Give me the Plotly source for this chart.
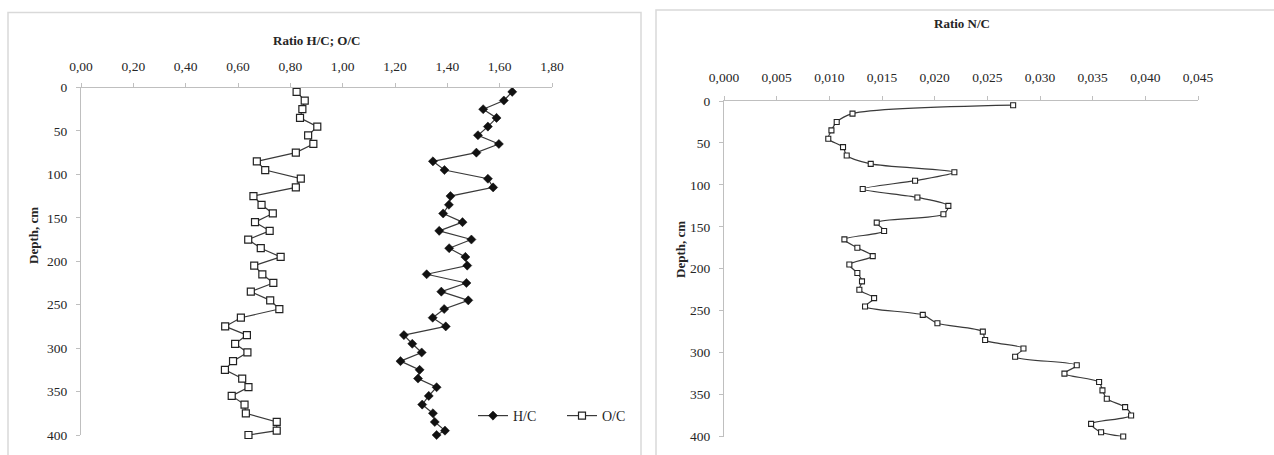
import plotly.graph_objects as go

W, H = 1274, 455

depth = [5, 15, 25, 35, 45, 55, 65, 75, 85, 95, 105, 115, 125, 135, 145, 155, 165, 175, 185, 195,
         205, 215, 225, 235, 245, 255, 265, 275, 285, 295, 305, 315, 325, 335, 345, 355, 365, 375, 385, 395, 400]

hc = [1.648, 1.616, 1.537, 1.588, 1.555, 1.517, 1.597, 1.511, 1.345, 1.389, 1.555, 1.575, 1.412, 1.406,
      1.384, 1.458, 1.369, 1.492, 1.407, 1.469, 1.476, 1.321, 1.473, 1.377, 1.480, 1.388, 1.344, 1.394,
      1.234, 1.266, 1.302, 1.221, 1.294, 1.288, 1.359, 1.329, 1.304, 1.345, 1.352, 1.391, 1.359]

oc = [0.824, 0.855, 0.846, 0.837, 0.903, 0.868, 0.888, 0.821, 0.672, 0.704, 0.840, 0.821, 0.659, 0.690,
      0.733, 0.665, 0.721, 0.639, 0.687, 0.763, 0.662, 0.693, 0.735, 0.649, 0.723, 0.758, 0.611, 0.551,
      0.634, 0.589, 0.636, 0.581, 0.550, 0.616, 0.640, 0.576, 0.625, 0.630, 0.748, 0.748, 0.640]

nc = [0.02745, 0.0122, 0.0107, 0.0102, 0.0099, 0.0113, 0.01165, 0.01393, 0.02187, 0.01814, 0.01317,
      0.01836, 0.0213, 0.02083, 0.0145, 0.0152, 0.01143, 0.01266, 0.01412, 0.0119, 0.01266, 0.0131,
      0.01285, 0.01425, 0.01339, 0.01887, 0.02026, 0.02457, 0.02479, 0.02843, 0.02764, 0.03349,
      0.03232, 0.03561, 0.03593, 0.03634, 0.03808, 0.03865, 0.03485, 0.0358, 0.0379]

left_ticks = [0, 0.2, 0.4, 0.6, 0.8, 1.0, 1.2, 1.4, 1.6, 1.8]
right_ticks = [0, 0.005, 0.01, 0.015, 0.02, 0.025, 0.03, 0.035, 0.04, 0.045]
depth_ticks = [0, 50, 100, 150, 200, 250, 300, 350, 400]

FONT = "Liberation Serif"
TXT = "#262626"
AX = "#bfbfbf"
LINE = "#3a3a3a"


def px(x):
    return x / W


def py(y):
    return 1 - y / H


fig = go.Figure()

fig.add_trace(go.Scatter(
    x=hc, y=depth, name="H/C", mode="lines+markers", xaxis="x", yaxis="y", cliponaxis=False,
    line=dict(color=LINE, width=1.2),
    marker=dict(symbol="diamond", size=7, color="#111111", line=dict(color="#111111", width=0.5)),
))
fig.add_trace(go.Scatter(
    x=oc, y=depth, name="O/C", mode="lines+markers", xaxis="x", yaxis="y", cliponaxis=False,
    line=dict(color=LINE, width=1.2),
    marker=dict(symbol="square", size=7, color="white", line=dict(color="#222222", width=1.2)),
))
fig.add_trace(go.Scatter(
    x=nc, y=depth, name="N/C", mode="lines+markers", xaxis="x2", yaxis="y2", showlegend=False,
    cliponaxis=False,
    line=dict(color=LINE, width=1.2, shape="spline", smoothing=0.8),
    marker=dict(symbol="square", size=5, color="white", line=dict(color="#222222", width=1.1)),
))

axis_common = dict(showgrid=False, zeroline=False, showline=True, linecolor=AX, linewidth=1,
                   ticks="outside", ticklen=4, tickcolor=AX, tickwidth=1, automargin=False,
                   tickfont=dict(family=FONT, size=13.5, color=TXT), fixedrange=True)

fig.update_layout(
    width=W, height=H, autosize=False,
    margin=dict(l=0, r=0, t=0, b=0, pad=0, autoexpand=False),
    paper_bgcolor="white", plot_bgcolor="white",
    separators=",.",
    font=dict(family=FONT, color=TXT),
    xaxis=dict(domain=[px(81), px(552)], range=[0, 1.8], side="top", anchor="y",
               tickvals=left_ticks, tickformat=".2f", ticklabelstandoff=6, **axis_common),
    yaxis=dict(domain=[py(435), py(87.5)], range=[400, 0], anchor="x",
               tickvals=depth_ticks, ticklabelstandoff=6, **axis_common),
    xaxis2=dict(domain=[px(724), px(1198)], range=[0, 0.045], side="top", anchor="y2",
                tickvals=right_ticks, tickformat=".3f", ticklabelstandoff=9, **axis_common),
    yaxis2=dict(domain=[py(436.5), py(101)], range=[400, 0], anchor="x2",
                tickvals=depth_ticks, ticklabelstandoff=6, **axis_common),
    legend=dict(orientation="h", x=px(473), y=py(416), xanchor="left", yanchor="middle",
                bgcolor="rgba(0,0,0,0)", font=dict(family=FONT, size=14, color=TXT),
                itemwidth=30, tracegroupgap=0, entrywidth=44),
    showlegend=True,
)

# panel frames
fig.add_shape(type="rect", xref="paper", yref="paper", x0=px(8), x1=px(641), y0=py(470), y1=py(12.5),
              line=dict(color="#d9d9d9", width=1.5), layer="below")
fig.add_shape(type="rect", xref="paper", yref="paper", x0=px(656), x1=px(1290), y0=py(470), y1=py(10),
              line=dict(color="#d9d9d9", width=1.5), layer="below")

ann = [
    dict(text="<b>Ratio H/C; O/C</b>", x=px(316), y=py(40)),
    dict(text="<b>Ratio N/C</b>", x=px(962), y=py(23)),
    dict(text="<b>Depth, cm</b>", x=px(33), y=py(236), textangle=-90),
    dict(text="<b>Depth, cm</b>", x=px(680), y=py(250), textangle=-90),
]
for a in ann:
    fig.add_annotation(xref="paper", yref="paper", showarrow=False, xanchor="center", yanchor="middle",
                       font=dict(family=FONT, size=13, color=TXT), **a)

fig.write_html("out.html", config={"displayModeBar": False},
               post_script="document.body.style.margin='0px';document.body.style.overflow='hidden';")
